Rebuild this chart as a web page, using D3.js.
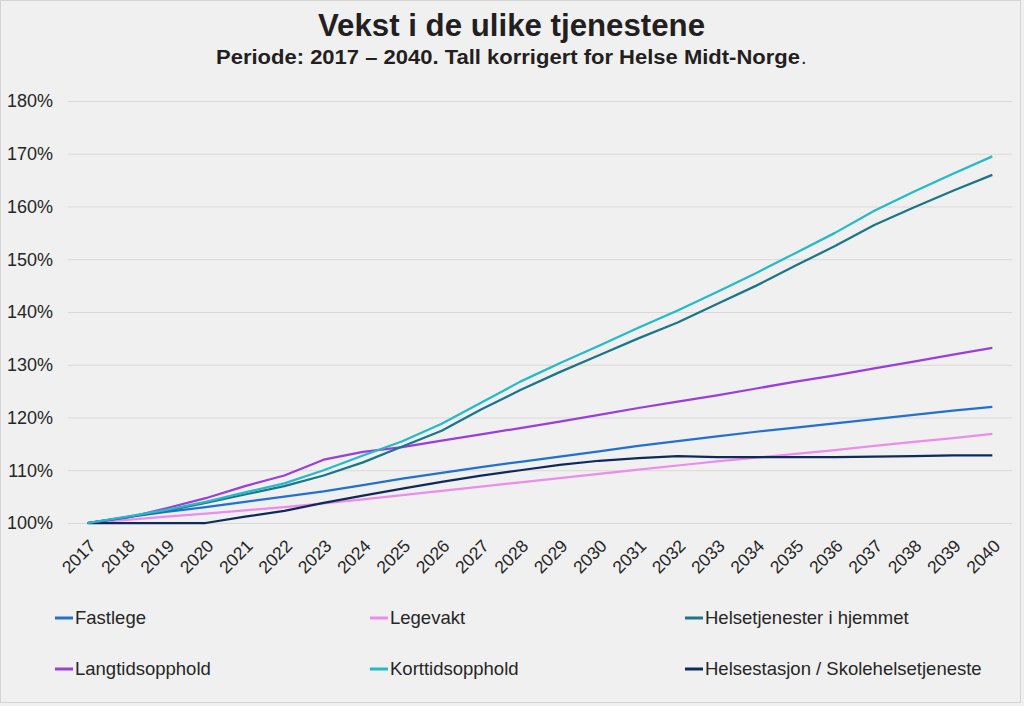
<!DOCTYPE html>
<html><head><meta charset="utf-8">
<script src="https://cdn.jsdelivr.net/npm/d3@7"></script>
<style>
html,body{margin:0;padding:0;background:#f0f0f0;}
svg{display:block;font-family:"Liberation Sans",Arial,sans-serif;}
</style></head>
<body>
<svg id="c" width="1024" height="706"></svg>
<script>
const years = ["2017","2018","2019","2020","2021","2022","2023","2024","2025","2026","2027","2028","2029","2030","2031","2032","2033","2034","2035","2036","2037","2038","2039","2040"];
const yTicks = [100,110,120,130,140,150,160,170,180];

const fastlege = [100,101.1,102.1,103.0,104.0,105.0,106.0,107.2,108.4,109.5,110.6,111.6,112.6,113.6,114.6,115.5,116.4,117.3,118.1,118.9,119.7,120.5,121.3,122.0];
const legevakt = [100,100.6,101.2,101.8,102.4,103.0,103.7,104.5,105.3,106.1,106.9,107.7,108.5,109.3,110.1,110.9,111.7,112.4,113.1,113.8,114.6,115.4,116.1,116.9];
const hjemmet = [100,101.1,102.3,103.8,105.4,107.0,109.0,111.5,114.5,117.5,121.5,125.2,128.6,131.8,135.0,138.0,141.5,145.0,148.8,152.5,156.5,159.8,163.0,166.0];
const langtid = [100,101.0,102.8,104.7,107.0,109.0,112.0,113.5,114.4,115.6,116.8,118.0,119.2,120.5,121.8,123.0,124.2,125.5,126.8,128.0,129.3,130.6,131.9,133.2];
const korttid = [100,101.2,102.5,104.0,105.8,107.5,110.0,112.8,115.5,118.8,122.8,126.8,130.3,133.6,137.0,140.3,143.8,147.4,151.2,155.0,159.2,162.8,166.2,169.5];
const helsestasjon = [100,100,100,100,101.2,102.3,103.8,105.2,106.5,107.8,109.0,110.0,111.0,111.8,112.3,112.7,112.5,112.5,112.5,112.5,112.6,112.7,112.8,112.8];

const seriesNames = ["Fastlege","Legevakt","Helsetjenester i hjemmet","Langtidsopphold","Korttidsopphold","Helsestasjon / Skolehelsetjeneste"];
const seriesValues = [fastlege, legevakt, hjemmet, langtid, korttid, helsestasjon];
const seriesColors = ["#2270d0","#ec8cec","#1a7689","#9a3ee0","#25bac8","#0e2a5a"];

const svg = d3.select("#c");
svg.append("rect").attr("x",0.5).attr("y",0.5).attr("width",1020).attr("height",702)
  .attr("fill","#f0f0f0").attr("stroke","#d4d4d4");

const pLeft = 68, pRight = 1012, pTop = 101, pBottom = 523;
const x = d3.scaleBand().domain(years).range([pLeft,pRight]);
const y = d3.scaleLinear().domain([100,180]).range([pBottom,pTop]);

// grid
svg.append("g").selectAll("line").data(yTicks).join("line")
  .attr("x1",pLeft).attr("x2",pRight)
  .attr("y1",d=>y(d)+0.5).attr("y2",d=>y(d)+0.5)
  .attr("stroke","#d9d9d9").attr("stroke-width",1);

// y axis
const yAxis = svg.append("g").attr("transform",`translate(${pLeft},0)`)
  .call(d3.axisLeft(y).tickValues(yTicks).tickFormat(d=>d+"%").tickSize(0).tickPadding(15));
yAxis.select(".domain").remove();
yAxis.selectAll("text").attr("font-size",18).attr("fill","#262626")
  .attr("font-family","'Liberation Sans',Arial,sans-serif");

// x axis
const xAxis = svg.append("g").attr("transform",`translate(0,${pBottom})`)
  .call(d3.axisBottom(x).tickSize(0).tickPadding(0));
xAxis.select(".domain").remove();
xAxis.selectAll("text")
  .attr("font-size",17.5).attr("fill","#262626")
  .attr("font-family","'Liberation Sans',Arial,sans-serif")
  .attr("text-anchor","end")
  .attr("dy",0)
  .attr("transform","translate(9,24) rotate(-45)");

// lines
const line = d3.line().x((d,i)=>x(years[i])+x.bandwidth()/2).y(d=>y(d));
const drawOrder = [1,0,5,3,2,4];
drawOrder.forEach(i=>{
  svg.append("path").datum(seriesValues[i])
    .attr("d",line).attr("fill","none")
    .attr("stroke",seriesColors[i]).attr("stroke-width",2.25)
    .attr("stroke-linejoin","round");
});

// title
svg.append("text").attr("x",318).attr("y",36)
  .attr("font-size",31).attr("font-weight","bold").attr("fill","#231f20")
  .attr("font-family","'Liberation Sans Narrow','Liberation Sans',Arial,sans-serif")
  .attr("textLength",387).attr("lengthAdjust","spacingAndGlyphs")
  .text("Vekst i de ulike tjenestene");
svg.append("text").attr("x",216).attr("y",64)
  .attr("font-size",20).attr("font-weight","bold").attr("fill","#231f20")
  .attr("font-family","'Liberation Sans Narrow','Liberation Sans',Arial,sans-serif")
  .attr("textLength",584).attr("lengthAdjust","spacingAndGlyphs")
  .text("Periode: 2017 – 2040. Tall korrigert for Helse Midt-Norge");
svg.append("text").attr("x",801).attr("y",64)
  .attr("font-size",20).attr("fill","#231f20").text(".");

// legend
const legX = [55,370,685], legY = [618,669];
const leg = svg.append("g").selectAll("g").data(seriesNames).join("g")
  .attr("transform",(d,i)=>`translate(${legX[i%3]},${legY[Math.floor(i/3)]})`);
leg.append("line").attr("x1",0).attr("x2",18).attr("y1",0).attr("y2",0)
  .attr("stroke",(d,i)=>seriesColors[i]).attr("stroke-width",3);
leg.append("text").attr("x",20).attr("y",0).attr("dy","0.35em")
  .attr("font-size",18.5).attr("fill","#262626").text(d=>d);
</script>
</body></html>
